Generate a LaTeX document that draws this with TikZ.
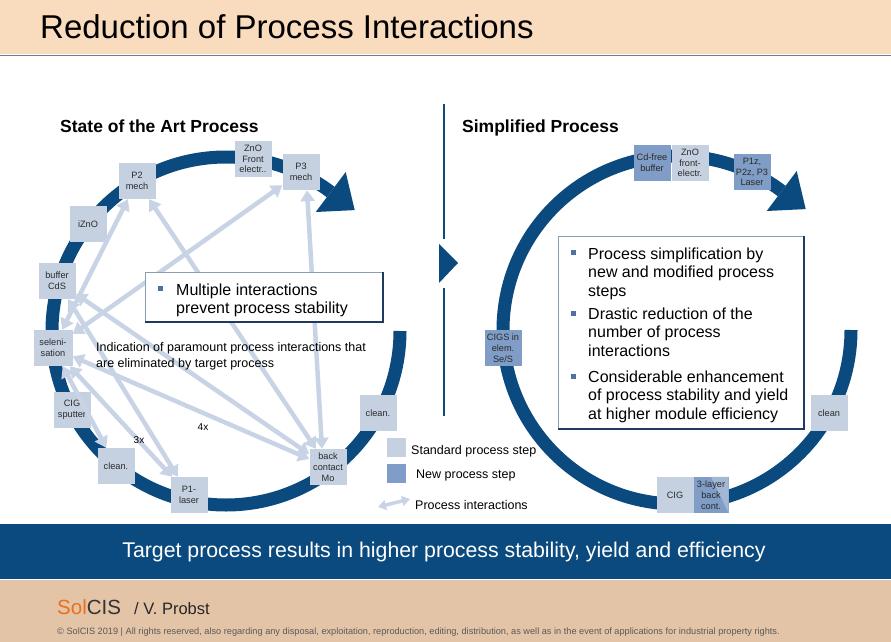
\documentclass[tikz,border=0pt]{standalone}
\usepackage{fontspec}
\setmainfont{Liberation Sans}
\usetikzlibrary{arrows.meta}
\definecolor{peach}{HTML}{F9DBBE}
\definecolor{tan}{HTML}{E4C4A7}
\definecolor{ringc}{HTML}{0B4A7E}
\definecolor{stdc}{HTML}{C5D0E0}
\definecolor{newc}{HTML}{7F9DC6}
\definecolor{midc}{HTML}{A3B6D3}
\definecolor{arrc}{HTML}{C8D4E5}
\definecolor{boxtext}{HTML}{2B2B2B}
\definecolor{bulc}{HTML}{50709F}
\definecolor{bordl}{HTML}{8A9CB8}
\definecolor{bordd}{HTML}{1E3A5F}
\definecolor{solorange}{HTML}{E8701E}
\newcommand\fsz[2]{\fontsize{#1}{#2}\selectfont}
\tikzset{
  stepbox/.style={fill=stdc, minimum width=37pt, minimum height=36pt, inner sep=0.5pt,
    font=\fsz{9.2}{10.8}, text=boxtext, align=center},
  newbox/.style={stepbox, fill=newc},
  ia/.style={draw=arrc, line width=4.5pt,
    {Triangle[width=14pt,length=11pt]}-{Triangle[width=14pt,length=11pt]}},
  ringline/.style={draw=ringc, line width=13pt},
  bul/.style={fill=bulc, minimum size=5pt, inner sep=0pt},
  txt/.style={anchor=base west, inner sep=0pt, text=black},
}
\begin{document}
\begin{tikzpicture}[x=1pt,y=-1pt]
\useasboundingbox (0,0) rectangle (891,642);
% header
\fill[peach] (0,0) rectangle (891,54.5);
\draw[color=bordl!80!black, line width=1.5pt] (0,55.5) -- (891,55.5);
\node[txt, font=\fsz{33}{36}] (title) at (40,38.5) {Reduction of Process Interactions};

% separator
\draw[ringc, line width=1.5pt] (444,104) -- (444,239);
\draw[ringc, line width=1.5pt] (444,288) -- (444,416);
\fill[ringc] (439,244) -- (458,263) -- (439,283) -- cycle;

% headings
\node[txt, font=\bfseries\fsz{17.5}{20}] (hl) at (60,132) {State of the Art Process};
\node[txt, font=\bfseries\fsz{17.5}{20}] (hr) at (462,132) {Simplified Process};

% left ring
\draw[ringline] (400,331) arc[start angle=0, end angle=307, radius=174];
\fill[ringc] (345.7,172.0) -- (354.7,210.1) -- (315.7,212.0) -- cycle;
% right ring
\draw[ringline] (851,330) arc[start angle=0, end angle=307, radius=174];
\fill[ringc] (796.7,171.0) -- (805.7,209.1) -- (766.7,211.0) -- cycle;

% left boxes
\node[stepbox] (znoL) at (253,159) {ZnO\\Front\\electr..};
\node[stepbox] (p3) at (301,172) {P3\\mech};
\node[stepbox] (p2) at (137,181) {P2\\mech};
\node[stepbox] (izno) at (88,224) {iZnO};
\node[stepbox] (buf) at (57,281) {buffer\\CdS};
\node[stepbox, minimum width=39pt] (sel) at (53,348) {seleni-\\sation};
\node[stepbox] (cig) at (72,410) {CIG\\sputter};
\node[stepbox] (cleanL) at (116,466) {clean.};
\node[stepbox] (p1) at (189,495) {P1-\\laser};
\node[stepbox] (back) at (328,467) {back\\contact\\Mo};
\node[stepbox] (cleanR) at (378,413) {clean.};

% interaction arrows
\draw[ia] (sel) -- (p2);
\draw[ia] (sel) -- (p3);
\draw[ia] (sel) -- (cleanL);
\draw[ia] (sel) -- (p1);
\draw[ia] (sel) -- (back);
\draw[ia] (buf) -- (p1);
\draw[ia] (buf) -- (back);
\draw[ia] (back) -- (p2);
\draw[ia] ([xshift=-6pt]back.north) -- ([xshift=6pt]p3.south);

% left text box
\fill[white] (145,272) rectangle (383,322);
\draw[bordl, line width=0.8pt] (145,322) -- (145,272) -- (383,272);
\draw[bordd, line width=1.4pt] (383,272) -- (383,322) -- (145,322);
\node[bul] (bl1) at (160,288) {};
\node[txt, font=\fsz{16}{18}] (ml1) at (176,295.5) {Multiple interactions};
\node[txt, font=\fsz{16}{18}] (ml2) at (176,313) {prevent process stability};

\node[txt, font=\fsz{12.5}{15}] (ind1) at (96,351.5) {Indication of paramount process interactions that};
\node[txt, font=\fsz{12.5}{15}] (ind2) at (96,367.5) {are eliminated by target process};
\node[font=\fsz{10}{12}] (x3) at (139,440) {3x};
\node[font=\fsz{10}{12}] (x4) at (203,427) {4x};

% right boxes
\node[newbox] (cdfree) at (652,163) {Cd-free\\buffer};
\node[stepbox] (znoR) at (690,163) {ZnO\\front-\\electr.};
\node[newbox] (p1z) at (752,172) {P1z,\\P2z, P3\\Laser};
\node[newbox] (cigs) at (503,348) {CIGS in\\elem.\\Se/S};
\node[stepbox] (cleanRR) at (829,413) {clean};
\node[stepbox] (cigR) at (675,495) {CIG};
\node[newbox, minimum width=35pt] (layer) at (711,495) {};
\fill[midc] (layer.north) -- (layer.north east) -- (layer.south east) -- cycle;
\node[font=\fsz{9.2}{10.8}, text=boxtext, align=center, inner sep=0pt] (layert) at (layer.center) {3-layer\\back\\cont.};

% right text box
\fill[white] (558,236) rectangle (804,429);
\draw[bordl, line width=0.8pt] (558,429) -- (558,236) -- (804,236);
\draw[bordd, line width=1.4pt] (804,236) -- (804,429) -- (558,429);
\node[bul] (br1) at (573,252) {};
\node[bul] (br2) at (573,313) {};
\node[bul] (br3) at (573,376) {};
\node[txt, font=\fsz{16}{18}] (r1) at (588,259) {Process simplification by};
\node[txt, font=\fsz{16}{18}] (r2) at (588,277.7) {new and modified process};
\node[txt, font=\fsz{16}{18}] (r3) at (588,296.4) {steps};
\node[txt, font=\fsz{16}{18}] (r4) at (588,319) {Drastic reduction of the};
\node[txt, font=\fsz{16}{18}] (r5) at (588,337.7) {number of process};
\node[txt, font=\fsz{16}{18}] (r6) at (588,356.4) {interactions};
\node[txt, font=\fsz{16}{18}] (r7) at (588,382) {Considerable enhancement};
\node[txt, font=\fsz{16}{18}] (r8) at (588,400.7) {of process stability and yield};
\node[txt, font=\fsz{16}{18}] (r9) at (588,419.4) {at higher module efficiency};

% legend
\node[fill=stdc, minimum size=19pt, inner sep=0pt] (lgs) at (396.5,447.5) {};
\node[fill=newc, minimum size=19pt, inner sep=0pt] (lgn) at (396.5,473.5) {};
\coordinate (lga) at (378,507);
\coordinate (lgb) at (410,499);
\draw[draw=arrc, line width=3.5pt, {Triangle[width=10pt,length=8pt]}-{Triangle[width=10pt,length=8pt]}] (lga) -- (lgb);
\node[txt, font=\fsz{12.5}{15}] (lt1) at (411,454.5) {Standard process step};
\node[txt, font=\fsz{12.5}{15}] (lt2) at (416,478.5) {New process step};
\node[txt, font=\fsz{12.5}{15}] (lt3) at (415,509.5) {Process interactions};

% bottom band
\fill[ringc] (0,524) rectangle (891,579);
\node[font=\fsz{21.3}{24}, text=white] (target) at (444,552) {Target process results in higher process stability, yield and efficiency};
\fill[tan] (0,580) rectangle (891,642);
\node[txt, font=\fsz{20.5}{22}] (sol) at (57,614) {\textcolor{solorange}{Sol}\textcolor{black!80}{CIS}};
\node[txt, font=\fsz{16.5}{18}, text=black!85] (prob) at (134,614) {/ V. Probst};
\node[txt, font=\fsz{9.2}{10}, text=black!65] (copy) at (57,634) {© SolCIS 2019 | All rights reserved, also regarding any disposal, exploitation, reproduction, editing, distribution, as well as in the event of applications for industrial property rights.};
\end{tikzpicture}
\end{document}
